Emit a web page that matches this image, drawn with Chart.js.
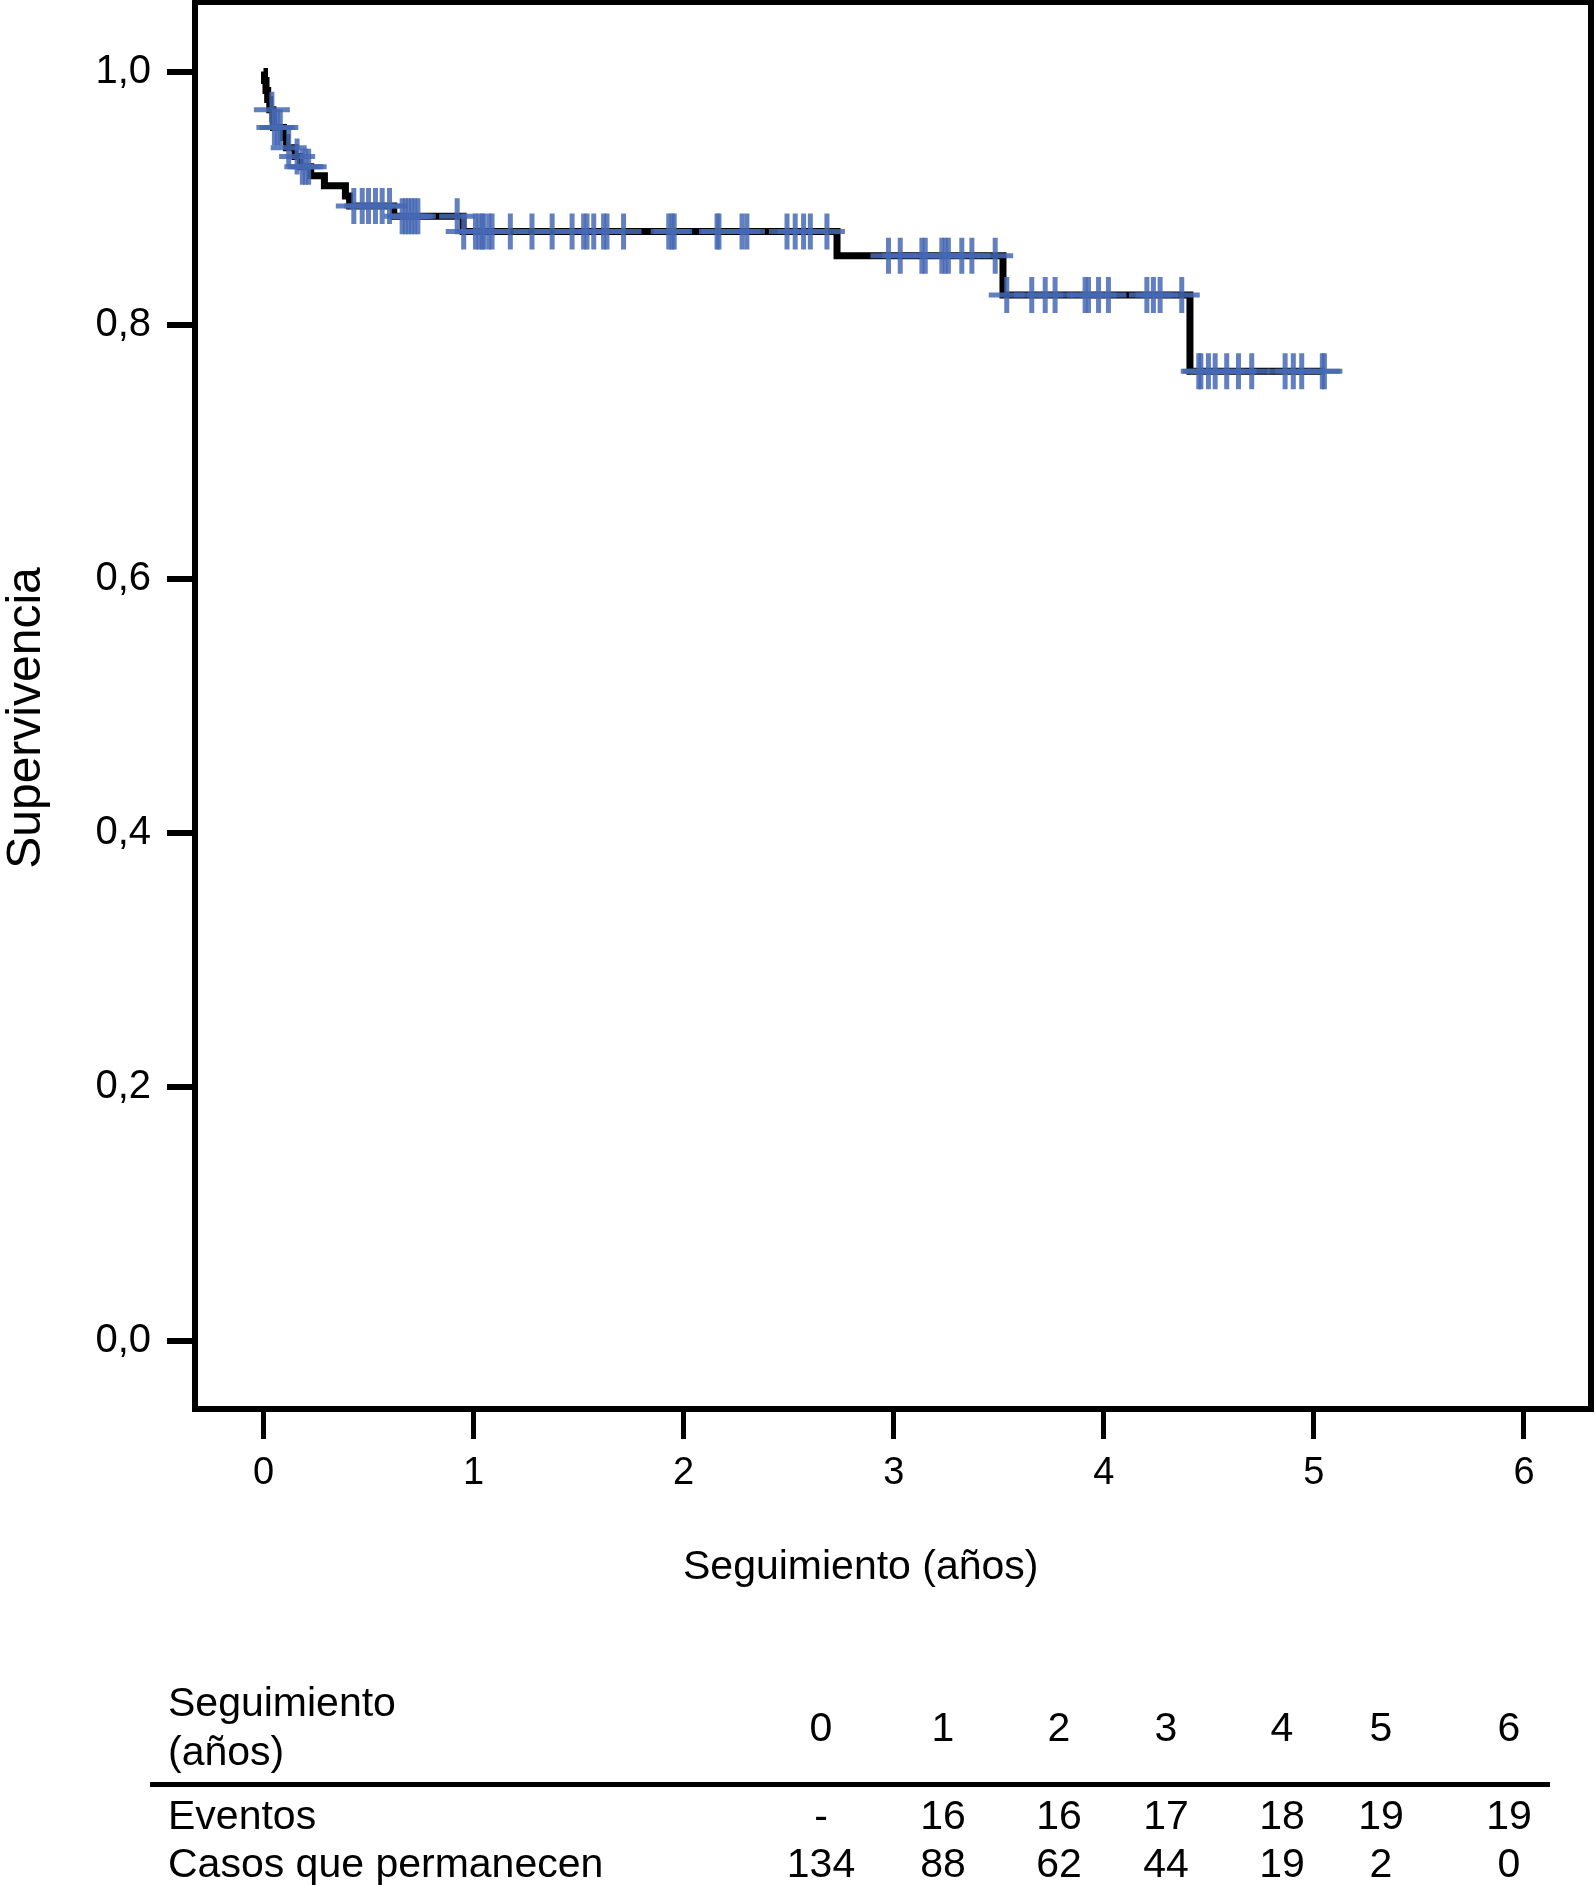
<!DOCTYPE html>
<html lang="es">
<head>
<meta charset="utf-8">
<title>Supervivencia</title>
<script src="https://cdn.jsdelivr.net/npm/chart.js@4.4.0/dist/chart.umd.min.js"></script>
<style>
  html, body { margin: 0; padding: 0; background: #fff; }
  #wrap { position: relative; width: 1595px; height: 1885px; font-family: "Liberation Sans", Arial, Helvetica, sans-serif; color: #000; overflow: hidden; }
  #wrap canvas { position: absolute; left: 0; top: 0; }
  .txt { position: absolute; font-size: 41px; line-height: 41px; white-space: nowrap; }
  .num { width: 140px; text-align: center; }
  #yTitulo { width: 400px; text-align: center; transform: rotate(-90deg); font-size: 48px; line-height: 48px; }
  #regla { position: absolute; left: 150px; top: 1782px; width: 1400px; height: 5px; background: #000; }
</style>
</head>
<body>
<div id="wrap">
  <div style="position:absolute;left:0;top:0;width:1595px;height:1885px;">
    <canvas id="km"></canvas>
  </div>
  <div id="yTitulo" class="txt">Supervivencia</div>
  <div id="xTitulo" class="txt">Seguimiento (años)</div>
  <div id="regla"></div>
  <div id="tabla"></div>
</div>
<script>
// Curva de Kaplan-Meier: tiempos (años) de cada evento y supervivencia tras él
const tiemposCurva = [0, 0.005, 0.012, 0.020, 0.030, 0.045, 0.048, 0.095, 0.110, 0.150, 0.175,
  0.225, 0.290, 0.390, 0.410, 0.620, 0.950, 2.730, 3.520, 4.410];
const valoresCurva = [1.000, 0.993, 0.985, 0.978, 0.970, 0.963, 0.956, 0.948, 0.940, 0.933, 0.925,
  0.918, 0.910, 0.902, 0.894, 0.886, 0.874, 0.855, 0.824, 0.764];
const tiempoFinal = 5.05;

// Casos censurados (años)
const tiemposCensura = [0.040, 0.052, 0.066, 0.080, 0.120, 0.160, 0.185, 0.200, 0.215,
  0.430, 0.470, 0.500, 0.533, 0.565, 0.600,
  0.660, 0.675, 0.690, 0.705, 0.720, 0.735, 0.922,
  0.953, 1.009, 1.025, 1.041, 1.048, 1.072, 1.088, 1.175, 1.278, 1.374, 1.469, 1.524, 1.540,
  1.572, 1.619, 1.635, 1.714, 1.929, 1.945, 1.955, 2.159, 2.168, 2.278, 2.301, 2.492, 2.531,
  2.571, 2.603, 2.682,
  2.975, 3.031, 3.134, 3.150, 3.229, 3.245, 3.260, 3.324, 3.372, 3.483,
  3.538, 3.657, 3.721, 3.768, 3.911, 3.927, 3.975, 4.022, 4.205, 4.236, 4.268, 4.371,
  4.452, 4.462, 4.498, 4.530, 4.585, 4.641, 4.704, 4.863, 4.902, 4.942, 5.040, 5.050];

// Ejes
const xTicks = [0, 1, 2, 3, 4, 5, 6];
const xTickLabels = ['0', '1', '2', '3', '4', '5', '6'];
const yTicks = [0, 0.2, 0.4, 0.6, 0.8, 1.0];
const yTickLabels = ['0,0', '0,2', '0,4', '0,6', '0,8', '1,0'];

// Tabla de casos en riesgo
const tablaAnios = ['0', '1', '2', '3', '4', '5', '6'];
const tablaEventos = ['-', '16', '16', '17', '18', '19', '19'];
const tablaCasos = ['134', '88', '62', '44', '19', '2', '0'];

const fuente = '"Liberation Sans", Arial, Helvetica, sans-serif';

// Supervivencia en el tiempo t según la curva
const survAt = (t) => {
  let v = valoresCurva[0];
  tiemposCurva.forEach((tc, i) => { if (tc <= t) v = valoresCurva[i]; });
  return v;
};

const puntosCurva = tiemposCurva.map((t, i) => ({ x: t, y: valoresCurva[i] }));
puntosCurva.push({ x: tiempoFinal, y: valoresCurva[valoresCurva.length - 1] });
const puntosCensura = tiemposCensura.map(t => ({ x: t, y: survAt(t) }));

// Marco negro alrededor del área del gráfico
const marco = {
  id: 'marco',
  afterDraw(chart) {
    const { ctx, chartArea: a } = chart;
    ctx.save();
    ctx.strokeStyle = '#000';
    ctx.lineWidth = 6;
    ctx.strokeRect(a.left, a.top, a.right - a.left, a.bottom - a.top);
    ctx.restore();
  }
};

// Quitar el relleno que Chart.js reserva para las etiquetas extremas
const sinRelleno = (s) => { s.paddingTop = 0; s.paddingBottom = 0; s.paddingLeft = 0; s.paddingRight = 0; };

new Chart(document.querySelector('#km'), {
  type: 'scatter',
  data: {
    datasets: [
      {
        type: 'line', data: puntosCurva, stepped: true, borderColor: '#000', borderWidth: 7,
        pointRadius: 0, fill: false, order: 2
      },
      {
        type: 'scatter', data: puntosCensura, pointStyle: 'cross', pointRadius: 18,
        borderColor: 'rgba(70, 104, 180, 0.85)', borderWidth: 5, order: 1
      }
    ]
  },
  options: {
    responsive: true, maintainAspectRatio: false, animation: false,
    layout: { autoPadding: false, padding: { top: 2, right: 4, left: 0, bottom: 0 } },
    plugins: { legend: { display: false }, tooltip: { enabled: false } },
    scales: {
      x: {
        type: 'linear', min: -0.326, max: 6.319,
        afterBuildTicks: s => { s.ticks = xTicks.map(v => ({ value: v })); },
        afterFit: s => { s.height = 476; sinRelleno(s); },
        ticks: { callback: (v, i) => xTickLabels[i], font: { size: 38, family: fuente }, color: '#000', padding: 12, maxRotation: 0, autoSkip: false },
        grid: { drawOnChartArea: false, drawTicks: true, tickLength: 30, color: '#000', lineWidth: 5 },
        border: { display: false }
      },
      y: {
        type: 'linear', min: -0.0536, max: 1.0548,
        afterBuildTicks: s => { s.ticks = yTicks.map(v => ({ value: v })); },
        afterFit: s => { s.width = 195; sinRelleno(s); },
        ticks: { callback: (v, i) => yTickLabels[i], font: { size: 40, family: fuente }, color: '#000', padding: 16, autoSkip: false },
        grid: { drawOnChartArea: false, drawTicks: true, tickLength: 28, color: '#000', lineWidth: 6 },
        border: { display: false }
      }
    }
  },
  plugins: [marco]
});

// Títulos y tabla como texto HTML
const colocar = (el, left, centroY) => { el.style.left = left + 'px'; el.style.top = (centroY - 20) + 'px'; };
colocar(document.querySelector('#xTitulo'), 862 - 179, 1565);
const yT = document.querySelector('#yTitulo');
yT.style.left = (24 - 200) + 'px'; yT.style.top = (718 - 24) + 'px';

const columnas = [821, 943, 1059, 1166, 1282, 1381, 1509];
const tabla = document.querySelector('#tabla');
const texto = (t, left, cy, cls) => {
  const d = document.createElement('div');
  d.className = 'txt' + (cls ? ' ' + cls : '');
  d.textContent = t;
  colocar(d, left, cy);
  tabla.appendChild(d);
};
texto('Seguimiento', 168, 1702);
texto('(años)', 168, 1751);
texto('Eventos', 168, 1815);
texto('Casos que permanecen', 168, 1863);
columnas.forEach((cx, i) => {
  texto(tablaAnios[i], cx - 70, 1727, 'num');
  texto(tablaEventos[i], cx - 70, 1815, 'num');
  texto(tablaCasos[i], cx - 70, 1863, 'num');
});
</script>
</body>
</html>
